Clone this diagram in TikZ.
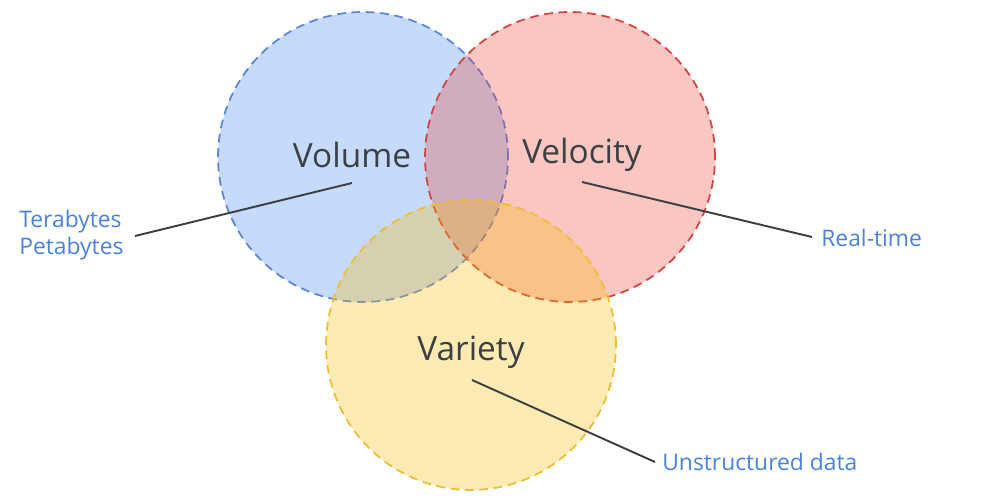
\documentclass[tikz,border=0pt]{standalone}
\usepackage{fontspec}
\setmainfont{Open Sans}
\usetikzlibrary{positioning}
\definecolor{ink}{HTML}{3C4043}
\definecolor{note}{HTML}{4A82DC}
\definecolor{volfill}{HTML}{4285F4}
\definecolor{velfill}{HTML}{EA4335}
\definecolor{varfill}{HTML}{FBBC04}
\definecolor{volline}{HTML}{5A86D8}
\definecolor{velline}{HTML}{D24444}
\definecolor{varline}{HTML}{EDBE35}
\tikzset{
  setcircle/.style={circle,minimum size=5.8cm,inner sep=0pt,fill opacity=0.3,draw opacity=1,line width=1pt,dash pattern=on 5pt off 3.2pt},
  volset/.style={setcircle,fill=volfill,draw=volline},
  velset/.style={setcircle,fill=velfill,draw=velline},
  varset/.style={setcircle,fill=varfill,draw=varline},
  title/.style={font=\fontsize{19}{22}\selectfont,text=ink,inner sep=0pt},
  note/.style={font=\fontsize{13}{15}\selectfont,text=note,inner sep=0pt,align=left},
  leader/.style={draw=ink,line width=1.1pt},
}

\begin{document}
\begin{tikzpicture}[x=0.02cm,y=-0.02cm]
  \useasboundingbox (0,0) rectangle (987,502);

  % sets
  \node[volset] (vol) at (363,157) {};
  \node[velset] (vel) at (570,157) {};
  \node[varset] (var) at (471,345) {};

  % set names
  \node[title] (volname) at (352,155) {Volume};
  \node[title] (velname) at (582,155) {Velocity};
  \node[title] (varname) at (471,352) {Variety};

  % notes
  \node[note,anchor=west] (volnote) at (19,235) {Terabytes\\Petabytes};
  \node[note,anchor=west] (velnote) at (821,238) {Real-time};
  \node[note,anchor=west] (varnote) at (662,462) {Unstructured data};

  \coordinate (volpt) at (352,183);
  \coordinate (velpt) at (582,182);
  \coordinate (varpt) at (472,380);
  \coordinate (volend) at (135,236);
  \coordinate (velend) at (812,237);
  \coordinate (varend) at (655,462);

  \draw[leader] (volpt) -- (volend);
  \draw[leader] (velpt) -- (velend);
  \draw[leader] (varpt) -- (varend);
\end{tikzpicture}
\end{document}
